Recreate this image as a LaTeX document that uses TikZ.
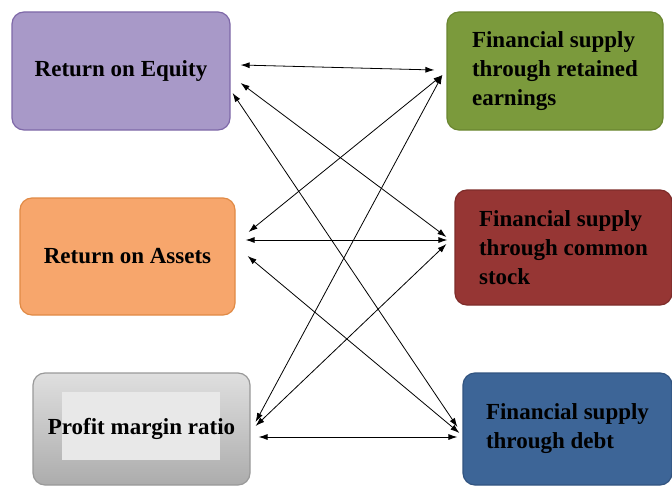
\documentclass[tikz,border=0pt]{standalone}
\usepackage{fontspec}
\setmainfont{Liberation Serif}
\usetikzlibrary{arrows.meta}
\definecolor{roecol}{HTML}{A899C8}
\definecolor{roeline}{HTML}{7E68A8}
\definecolor{roacol}{HTML}{F7A66C}
\definecolor{roaline}{HTML}{E08A45}
\definecolor{frecol}{HTML}{7B9A3C}
\definecolor{freline}{HTML}{6A8630}
\definecolor{fcscol}{HTML}{963634}
\definecolor{fcsline}{HTML}{7E2C2A}
\definecolor{fdbcol}{HTML}{3D6597}
\definecolor{fdbline}{HTML}{325480}

\begin{document}
\begin{tikzpicture}[x=1pt,y=-1pt,
		box/.style={rounded corners=12pt,line width=1.2pt,align=left,
			font=\fontsize{23}{29}\selectfont\bfseries},
		link/.style={{Latex[length=9pt,width=6pt]}-{Latex[length=9pt,width=6pt]},line width=0.8pt}]
		\useasboundingbox (0,0) rectangle (672,487);

		\node[box,fill=roecol,draw=roeline,minimum width=218pt,minimum height=118pt] (roe) at (121,71) {Return on Equity};
		\node[box,fill=roacol,draw=roaline,minimum width=215pt,minimum height=117pt] (roa) at (127.5,256.5) {Return on Assets};
		\node[box,draw=gray!80,top color=gray!25,bottom color=gray!65,minimum width=217pt,minimum height=112pt,
			path picture={\fill[gray!18,sharp corners] ([shift={(-80,-37)}]path picture bounding box.center) rectangle ([shift={(78,31)}]path picture bounding box.center);}]
			(pmr) at (141.5,429) {Profit margin ratio};

		\node[box,fill=frecol,draw=freline,minimum width=216pt,minimum height=118pt] (fre) at (555,71) {Financial supply\\through retained\\earnings};
		\node[box,fill=fcscol,draw=fcsline,minimum width=217pt,minimum height=115pt] (fcs) at (563.5,247.5) {Financial supply\\through common\\stock};
		\node[box,fill=fdbcol,draw=fdbline,minimum width=209pt,minimum height=112pt] (fdb) at (567.5,429) {Financial supply\\through debt};

		\draw[link] ([shift={(10,-6)}]roe.east) -- ([shift={(-12,-1)}]fre.west);
		\draw[link] ([shift={(10,12)}]roe.east) -- ([shift={(-8,-10.5)}]fcs.west);
		\draw[link] ([shift={(2,22)}]roe.east) -- ([shift={(-5,-2)}]fdb.west);

		\draw[link] ([shift={(13,-24.5)}]roa.east) -- ([shift={(-4,4)}]fre.west);
		\draw[link] ([shift={(10,-16.5)}]roa.east) -- ([shift={(-7,-7.5)}]fcs.west);
		\draw[link] ([shift={(12,-0.5)}]roa.east) -- ([shift={(-3,4)}]fdb.west);

		\draw[link] ([shift={(5,-7)}]pmr.east) -- ([shift={(-4,4)}]fre.west);
		\draw[link] ([shift={(5,-3)}]pmr.east) -- ([shift={(-8,-3.5)}]fcs.west);
		\draw[link] ([shift={(8,8)}]pmr.east) -- ([shift={(-5,8)}]fdb.west);
	\end{tikzpicture}
\end{document}
